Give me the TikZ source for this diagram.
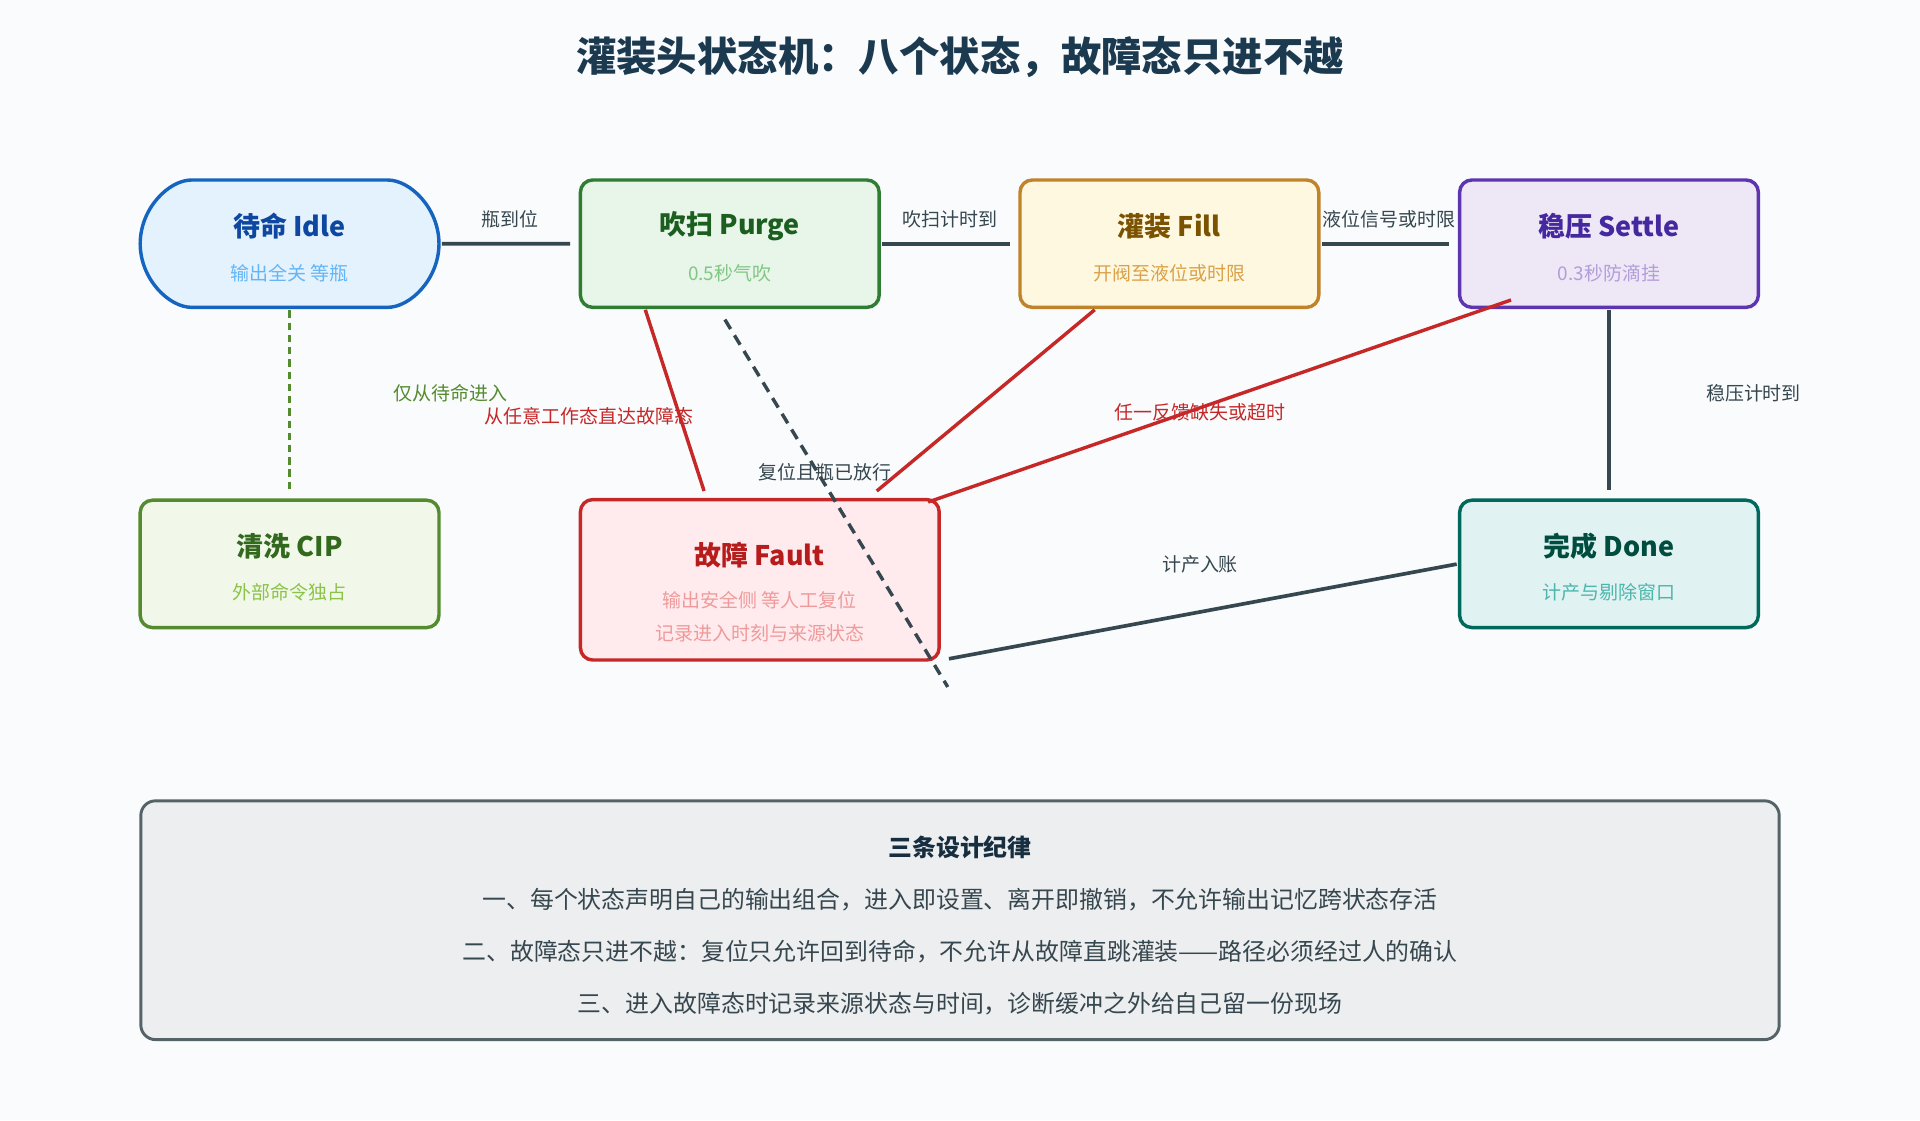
\documentclass[tikz,border=0pt]{standalone}
\usepackage{fontspec}
\setmainfont{Noto Sans CJK SC}
\usetikzlibrary{positioning,calc,shapes.misc}
\definecolor{ink}{HTML}{37474F}
\definecolor{ttl}{HTML}{1C3A4F}
\definecolor{idleD}{HTML}{1565C0}\definecolor{idleF}{HTML}{E3F2FD}\definecolor{idleT}{HTML}{0D47A1}\definecolor{idleS}{HTML}{64B5F6}
\definecolor{purD}{HTML}{2E7D32}\definecolor{purF}{HTML}{E8F5E9}\definecolor{purT}{HTML}{1B5E20}\definecolor{purS}{HTML}{81C784}
\definecolor{filD}{HTML}{C1832A}\definecolor{filF}{HTML}{FFF8E1}\definecolor{filT}{HTML}{7A5200}\definecolor{filS}{HTML}{D9A24A}
\definecolor{setD}{HTML}{5E35B1}\definecolor{setF}{HTML}{EDE7F6}\definecolor{setT}{HTML}{4527A0}\definecolor{setS}{HTML}{B39DDB}
\definecolor{cipD}{HTML}{558B2F}\definecolor{cipF}{HTML}{F1F8E9}\definecolor{cipT}{HTML}{33691E}\definecolor{cipS}{HTML}{8BC34A}
\definecolor{fltD}{HTML}{C62828}\definecolor{fltF}{HTML}{FFEBEE}\definecolor{fltT}{HTML}{B71C1C}\definecolor{fltS}{HTML}{EF9A9A}
\definecolor{donD}{HTML}{00695C}\definecolor{donF}{HTML}{E0F2F1}\definecolor{donT}{HTML}{004D40}\definecolor{donS}{HTML}{4DB6AC}
\definecolor{bg}{HTML}{F9FBFD}
\newcommand{\fs}[1]{\fontsize{#1}{#1}\selectfont}
\begin{document}
\begin{tikzpicture}
[x=1pt,y=-1pt,
state/.style={draw=#1,line width=2.8pt,rounded corners=10pt,minimum width=244pt,minimum height=104pt,inner sep=0pt},
head/.style={font=\fs{22}\bfseries,text=#1},
sub/.style={font=\fs{15.5},text=#1},
edge/.style={ink,line width=3pt},
bad/.style={fltD,line width=2.8pt},
lab/.style={font=\fs{15.5},text=ink}]
%% background and title
\fill[bg] (0,0) rectangle (1568,915);
\useasboundingbox (0,0) rectangle (1568,915);
\node[font=\fs{33}\bfseries,text=ttl] (title) at (784,47) {灌装头状态机：八个状态，故障态只进不越};
%% states
\node[state=idleD,fill=idleF,rounded rectangle] (idle) at (236.5,199) {};
\node[head=idleT] at (236.5,185) {待命 Idle};
\node[sub=idleS] at (236.5,223) {输出全关 等瓶};
\node[state=purD,fill=purF] (purge) at (596,199) {};
\node[head=purT] at (596,185) {吹扫 Purge};
\node[sub=purS] at (596,223) {0.5秒气吹};
\node[state=filD,fill=filF] (fill) at (955,199) {};
\node[head=filT] at (955,185) {灌装 Fill};
\node[sub=filS] at (955,223) {开阀至液位或时限};
\node[state=setD,fill=setF] (settle) at (1314,199) {};
\node[head=setT] at (1314,185) {稳压 Settle};
\node[sub=setS] at (1314,223) {0.3秒防滴挂};
\node[state=cipD,fill=cipF] (cip) at (236.5,460.5) {};
\node[head=cipT] at (236.5,446) {清洗 CIP};
\node[sub=cipS] at (236.5,484) {外部命令独占};
\node[state=fltD,fill=fltF,minimum width=293pt,minimum height=131pt] (fault) at (620.5,473.5) {};
\node[head=fltT] at (620.5,453) {故障 Fault};
\node[sub=fltS] at (620.5,490) {输出安全侧 等人工复位};
\node[sub=fltS] at (620.5,517) {记录进入时刻与来源状态};
\node[state=donD,fill=donF] (done) at (1314,460.5) {};
\node[head=donT] at (1314,446) {完成 Done};
\node[sub=donS] at (1314,484) {计产与剔除窗口};
%% normal path
\draw[edge,shorten <=1pt,shorten >=7pt] (idle) -- (purge) node[lab,midway,above=8pt] {瓶到位};
\draw[edge,shorten <=1pt,shorten >=7pt] (purge) -- (fill) node[lab,midway,above=8pt] {吹扫计时到};
\draw[edge,shorten <=1pt,shorten >=7pt] (fill) -- (settle) node[lab,midway,above=8pt] {液位信号或时限};
\draw[edge,shorten <=1pt,shorten >=7pt] (settle) -- (done);
\node[lab] (sdl) at (1432,321) {稳压计时到};
\draw[cipD,line width=2.6pt,dash pattern=on 6pt off 4pt,shorten <=1pt,shorten >=7pt] (idle) -- (cip);
\node[lab,text=cipD] (icl) at (368,321) {仅从待命进入};
%% into fault
\coordinate (p0) at (527,253); \coordinate (p1) at (575,401);
\coordinate (f0) at (894,253); \coordinate (f1) at (716,401);
\coordinate (s0) at (1234,245); \coordinate (s1) at (758,410);
\draw[bad] (p0) -- (p1);
\draw[bad] (f0) -- (f1);
\draw[bad] (s0) -- (s1);
\node[lab,text=fltD] (anyl) at (481,340) {从任意工作态直达故障态};
\node[lab,text=fltD] (fbl) at (980,337) {任一反馈缺失或超时};
%% reset and count
\coordinate (r0) at (592,261); \coordinate (r1) at (774,561);
\draw[ink,line width=2.8pt,dash pattern=on 9pt off 6pt] (r0) -- (r1);
\node[lab] (rstl) at (674,386) {复位且瓶已放行};
\coordinate (d1) at (775,538);
\draw[edge,shorten <=1pt] (done.west) -- (d1);
\node[lab] (cntl) at (980,461) {计产入账};
%% notes
\node[draw=ink!85,line width=2.4pt,fill=ink!9,rounded corners=12pt,minimum width=1338pt,minimum height=195pt] (notes) at (784,751.5) {};
\node[font=\fs{19.5}\bfseries,text=ttl!80!black] at (784,692) {三条设计纪律};
\node[lab,font=\fs{19.5}] at (784,735) {一、每个状态声明自己的输出组合，进入即设置、离开即撤销，不允许输出记忆跨状态存活};
\node[lab,font=\fs{19.5}] at (784,777) {二、故障态只进不越：复位只允许回到待命，不允许从故障直跳灌装——路径必须经过人的确认};
\node[lab,font=\fs{19.5}] at (784,820) {三、进入故障态时记录来源状态与时间，诊断缓冲之外给自己留一份现场};
\end{tikzpicture}
\end{document}
